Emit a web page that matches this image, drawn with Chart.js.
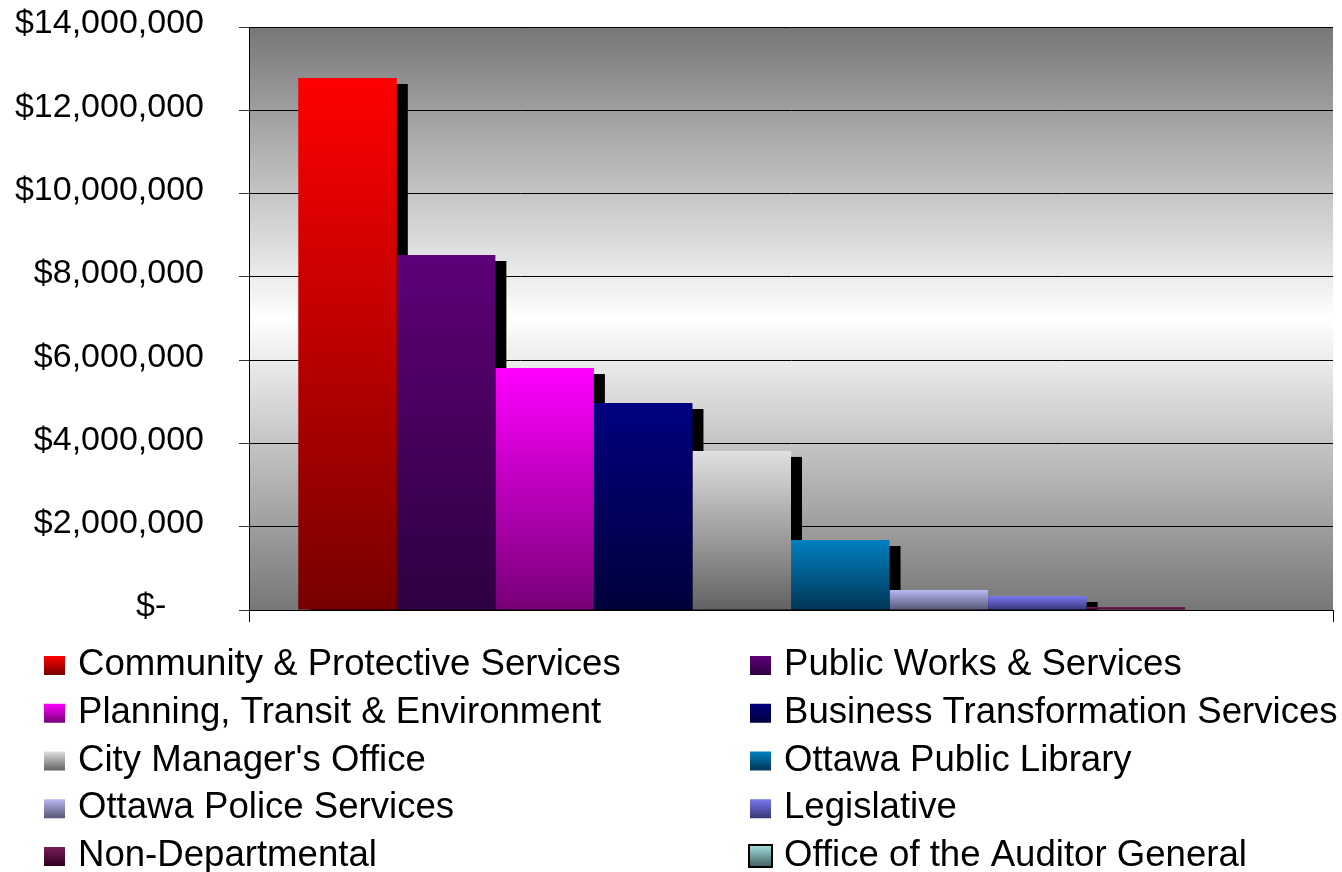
<!DOCTYPE html>
<html>
<head>
<meta charset="utf-8">
<title>Spending by Department</title>
<script src="https://cdn.jsdelivr.net/npm/chart.js@4.4.1/dist/chart.umd.min.js"></script>
<style>
  html, body { margin: 0; padding: 0; background: #ffffff; }
  #wrap { width: 1342px; height: 872px; }
</style>
</head>
<body>
<div id="wrap"><canvas id="chart" width="1342" height="872"></canvas></div>
<script>
// Departments and their spending, in the order the bars are drawn
const departments = [
  'Community & Protective Services',
  'Public Works & Services',
  'Planning, Transit & Environment',
  'Business Transformation Services',
  "City Manager's Office",
  'Ottawa Public Library',
  'Ottawa Police Services',
  'Legislative',
  'Non-Departmental',
  'Office of the Auditor General'
];
const spending = [12775000, 8525000, 5810000, 4970000, 3820000, 1680000, 480000, 336000, 72000, 0];
const categories = [''];
const yTickValues = [0, 2000000, 4000000, 6000000, 8000000, 10000000, 12000000, 14000000];

// Each series fades from a light top colour to a dark bottom colour
const topColors = ['#ff0000', '#5e0078', '#ff00ff', '#000080', '#e0e0e0', '#0080c0', '#b8b8f2', '#7878f2', '#7a1e5c', '#a8e0e0'];
const bottomColors = ['#780000', '#2e0040', '#780078', '#00003c', '#626262', '#003656', '#565676', '#363676', '#2e001e', '#3e5e5e'];
const outlinedSeries = [false, false, false, false, false, false, false, false, false, true];

const FONT = '"Liberation Sans", Arial, Helvetica, sans-serif';

function money(v) {
  if (v === 0) return '$-    ';
  return '$' + String(v).replace(/\B(?=(\d{3})+(?!\d))/g, ',');
}

function verticalGradient(c, top, bottom, i) {
  const g = c.createLinearGradient(0, top, 0, bottom);
  g.addColorStop(0, topColors[i]);
  g.addColorStop(1, bottomColors[i]);
  return g;
}

// Grey-white-grey wash behind the plot
const plotBackground = {
  id: 'plotBackground',
  beforeDraw(chart) {
    const { ctx, chartArea: a } = chart;
    const g = ctx.createLinearGradient(0, a.top, 0, a.bottom);
    g.addColorStop(0, '#777777');
    g.addColorStop(0.5, '#ffffff');
    g.addColorStop(1, '#777777');
    ctx.save();
    ctx.fillStyle = g;
    ctx.fillRect(a.left, a.top, a.right - a.left, a.bottom - a.top);
    ctx.restore();
  }
};

// Hard black drop shadow, offset right and down, under every bar
const barShadow = {
  id: 'barShadow',
  beforeDatasetsDraw(chart) {
    const { ctx, chartArea: a } = chart;
    ctx.save();
    ctx.beginPath();
    ctx.rect(a.left, a.top, a.right - a.left, a.bottom - a.top);
    ctx.clip();
    ctx.fillStyle = '#000000';
    chart.data.datasets.forEach((ds, i) => {
      chart.getDatasetMeta(i).data.forEach(bar => {
        const p = bar.getProps(['x', 'y', 'base', 'width'], true);
        if (p.base - p.y < 0.5) return;
        ctx.fillRect(p.x - p.width / 2 + 11, p.y + 6, p.width, p.base - p.y);
      });
    });
    ctx.restore();
  }
};

// Two-column legend under the plot
const columnLegend = {
  id: 'columnLegend',
  afterDraw(chart) {
    const { ctx } = chart;
    const colX = [44, 750];
    const firstBaseline = 675;
    const rowStep = 47.75;
    ctx.save();
    ctx.font = '36.6px ' + FONT;
    ctx.textAlign = 'left';
    ctx.textBaseline = 'alphabetic';
    chart.data.datasets.forEach((ds, i) => {
      const x = colX[i % 2];
      const base = firstBaseline + Math.floor(i / 2) * rowStep;
      let bx = x, by = base - 19, bw = 21, bh = 19;
      if (outlinedSeries[i]) { bx = x - 1; by = base - 21; bw = 23; bh = 22; }
      ctx.fillStyle = verticalGradient(ctx, by, by + bh, i);
      ctx.fillRect(bx, by, bw, bh);
      if (outlinedSeries[i]) {
        ctx.strokeStyle = '#000000';
        ctx.lineWidth = 2;
        ctx.strokeRect(bx, by, bw, bh);
      }
      ctx.fillStyle = '#000000';
      ctx.fillText(ds.label, x + 34, base);
    });
    ctx.restore();
  }
};

const datasets = departments.map((name, i) => ({
  label: name,
  data: [spending[i]],
  backgroundColor: (context) => {
    const chart = context.chart;
    if (!chart.chartArea) return topColors[i];
    const y = chart.scales.y;
    const top = y.getPixelForValue(spending[i]);
    const bottom = y.getPixelForValue(0);
    if (bottom - top < 1) return bottomColors[i];
    return verticalGradient(chart.ctx, top, bottom, i);
  },
  borderWidth: 0,
  categoryPercentage: 10 / 11,
  barPercentage: 1
}));

new Chart(document.getElementById('chart'), {
  type: 'bar',
  data: { labels: categories, datasets },
  plugins: [plotBackground, barShadow, columnLegend],
  options: {
    responsive: false,
    animation: false,
    devicePixelRatio: 1,
    layout: { padding: { top: 27, right: 9, bottom: 0, left: 0 } },
    plugins: {
      legend: { display: false },
      tooltip: { enabled: false }
    },
    scales: {
      x: {
        offset: true,
        ticks: { display: false },
        grid: {
          offset: true,
          drawOnChartArea: false,
          drawTicks: true,
          tickLength: 12,
          color: '#000000',
          lineWidth: 1
        },
        border: { display: true, color: '#000000', width: 1, z: 1 },
        afterFit(scale) {
          scale.height = 262;
          scale.paddingLeft = 0;
          scale.paddingRight = 0;
        }
      },
      y: {
        min: yTickValues[0],
        max: yTickValues[yTickValues.length - 1],
        afterBuildTicks(scale) { scale.ticks = yTickValues.map(v => ({ value: v })); },
        ticks: {
          callback: (v) => money(v),
          font: { family: FONT, size: 34 },
          color: '#000000',
          padding: 35,
          labelOffset: -3
        },
        grid: {
          color: '#000000',
          lineWidth: 1,
          tickLength: 10,
          tickColor: '#333333'
        },
        border: { display: true, color: '#000000', width: 1 },
        afterFit(scale) {
          scale.width = 249;
          scale.paddingTop = 0;
          scale.paddingBottom = 0;
        }
      }
    }
  }
});
</script>
</body>
</html>
